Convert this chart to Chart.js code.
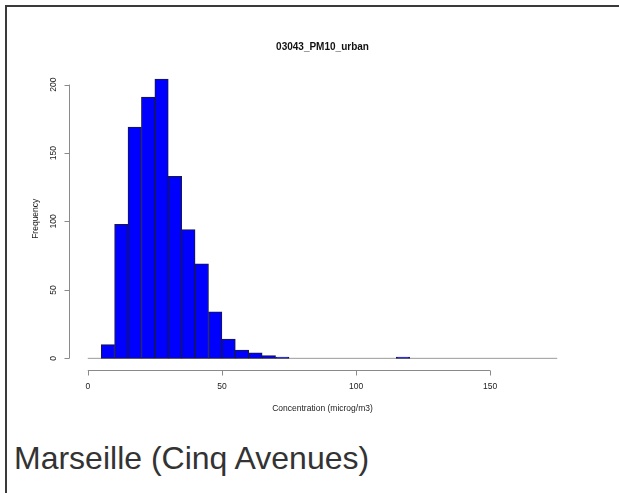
<!DOCTYPE html>
<html>
<head>
<meta charset="utf-8">
<title>03043_PM10_urban</title>
<script src="https://cdn.jsdelivr.net/npm/chart.js@4"></script>
<style>
  html, body { margin: 0; padding: 0; background: #fff; }
  body { width: 619px; height: 493px; position: relative; overflow: hidden; }
  .cell {
    position: absolute; left: 5px; top: 5px; width: 640px; height: 520px;
    border-top: 2px solid #3a3a3a; border-left: 2px solid #3a3a3a;
  }
  #histo { position: absolute; left: 0; top: 0; }
  .caption {
    position: absolute; left: 14px; top: 442px;
    font-family: "Liberation Sans", Arial, sans-serif; font-size: 32px; line-height: 32px;
    color: #333; white-space: nowrap;
  }
</style>
</head>
<body>
<div class="cell"></div>
<canvas id="histo" width="619" height="425"></canvas>
<div class="caption">Marseille (Cinq Avenues)</div>

<script>
// --- DATA --- //
const chartTitle = "03043_PM10_urban";
const xTitle = "Concentration (microg/m3)";
const yTitle = "Frequency";

// lower edge of each histogram bin (width 5)
const binStart = [0, 5, 10, 15, 20, 25, 30, 35, 40, 45, 50, 55, 60, 65, 70, 75, 80, 85,
  90, 95, 100, 105, 110, 115, 120, 125, 130, 135, 140, 145, 150, 155, 160, 165, 170];
const counts = [0, 10, 98, 169, 191, 204, 133, 94, 69, 34, 14, 6, 4, 2, 1, 0, 0, 0,
  0, 0, 0, 0, 0, 1, 0, 0, 0, 0, 0, 0, 0, 0, 0, 0, 0];

const xTicks = [0, 50, 100, 150];
const yTicks = [0, 50, 100, 150, 200];

// --- HELPERS --- //
const binWidth = binStart[1] - binStart[0];
const lastEdge = binStart[binStart.length - 1] + binWidth;
const maxCount = Math.max(...counts);

// R style: axis range padded by 4% on each side
const xPad = (lastEdge - binStart[0]) * 0.04;
const yPad = maxCount * 0.04;

const barData = binStart.map((s, i) => ({ x: s + binWidth / 2, y: counts[i] }));
const baseData = [{ x: binStart[0], y: 0 }, { x: lastEdge, y: 0 }];

const FONT = '"Liberation Sans", Arial, sans-serif';

// --- AXES LIKE R base graphics --- //
const rAxes = {
  id: "rAxes",
  afterDraw(chart) {
    const ctx = chart.ctx;
    const xs = chart.scales.x;
    const ys = chart.scales.y;
    const area = chart.chartArea;
    const tick = 5;

    ctx.save();
    ctx.strokeStyle = "#8a8a8a";
    ctx.lineWidth = 1;
    ctx.fillStyle = "#222";

    // y axis
    const ax = Math.round(area.left) + 0.5;
    ctx.beginPath();
    ctx.moveTo(ax, ys.getPixelForValue(yTicks[0]));
    ctx.lineTo(ax, ys.getPixelForValue(yTicks[yTicks.length - 1]));
    yTicks.forEach(v => {
      const py = Math.round(ys.getPixelForValue(v)) + 0.5;
      ctx.moveTo(ax, py);
      ctx.lineTo(ax - tick, py);
    });
    ctx.stroke();

    ctx.font = "8.5px " + FONT;
    ctx.textAlign = "center";
    ctx.textBaseline = "middle";
    yTicks.forEach(v => {
      ctx.save();
      ctx.translate(ax - 16, ys.getPixelForValue(v));
      ctx.rotate(-Math.PI / 2);
      ctx.fillText(String(v), 0, 0);
      ctx.restore();
    });

    // x axis
    const ay = Math.round(area.bottom) + 0.5;
    ctx.beginPath();
    ctx.moveTo(xs.getPixelForValue(xTicks[0]), ay);
    ctx.lineTo(xs.getPixelForValue(xTicks[xTicks.length - 1]), ay);
    xTicks.forEach(v => {
      const px = Math.round(xs.getPixelForValue(v)) + 0.5;
      ctx.moveTo(px, ay);
      ctx.lineTo(px, ay + tick);
    });
    ctx.stroke();

    xTicks.forEach(v => {
      ctx.fillText(String(v), xs.getPixelForValue(v), ay + 16);
    });

    // axis titles
    const midX = (area.left + area.right) / 2;
    const midY = (area.top + area.bottom) / 2;
    ctx.fillText(xTitle, midX, ay + 38);
    ctx.save();
    ctx.translate(ax - 34, midY);
    ctx.rotate(-Math.PI / 2);
    ctx.fillText(yTitle, 0, 0);
    ctx.restore();

    // main title
    ctx.fillStyle = "#111";
    ctx.font = "bold 10px " + FONT;
    ctx.fillText(chartTitle, midX, 47);
    ctx.restore();
  }
};

// --- CHART --- //
const ctx = document.getElementById("histo").getContext("2d");
new Chart(ctx, {
  type: "bar",
  data: {
    datasets: [
      {
        type: "bar",
        data: barData,
        backgroundColor: "#0000ff",
        borderColor: "#1a1a3a",
        borderWidth: 1,
        borderSkipped: false,
        barPercentage: 1,
        categoryPercentage: 1,
        order: 1
      },
      {
        type: "line",
        data: baseData,
        borderColor: "#9a9a9a",
        borderWidth: 1,
        pointRadius: 0,
        fill: false,
        order: 2
      }
    ]
  },
  options: {
    responsive: false,
    animation: false,
    devicePixelRatio: 1,
    layout: { padding: { left: 69, top: 68, right: 43, bottom: 55.5 } },
    plugins: {
      legend: { display: false },
      tooltip: { enabled: false },
      title: { display: false }
    },
    scales: {
      x: {
        type: "linear",
        display: false,
        offset: false,
        min: binStart[0] - xPad,
        max: lastEdge + xPad
      },
      y: {
        type: "linear",
        display: false,
        min: -yPad,
        max: maxCount + yPad
      }
    }
  },
  plugins: [rAxes]
});
</script>
</body>
</html>
